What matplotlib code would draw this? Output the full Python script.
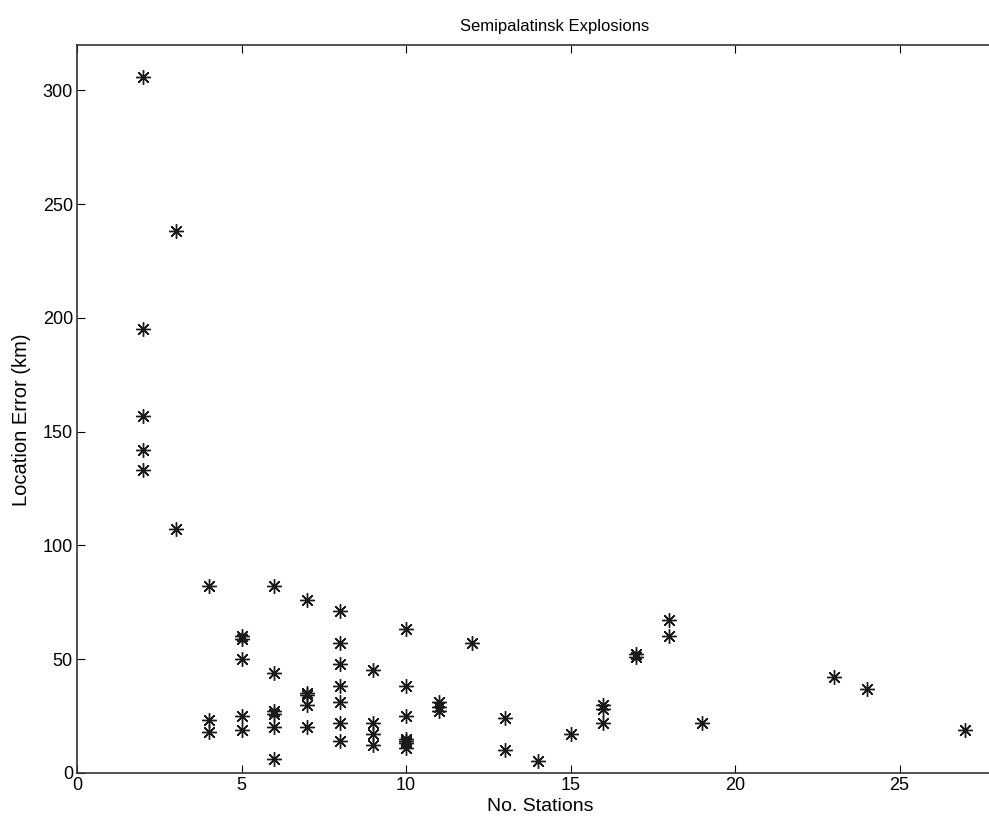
import matplotlib.pyplot as plt

# Dados
estacoes = [2, 2, 2, 2, 2,
            3, 3,
            4, 4, 4,
            5, 5, 5, 5, 5,
            6, 6, 6, 6, 6, 6,
            7, 7, 7, 7, 7,
            8, 8, 8, 8, 8, 8, 8,
            9, 9, 9, 9,
            10, 10, 10, 10, 10, 10, 10,
            11, 11, 11,
            12,
            13, 13,
            14,
            15,
            16, 16, 16,
            17, 17,
            18, 18,
            19,
            23,
            24,
            27]
erro_km = [306, 195, 157, 142, 133,
           238, 107,
           82, 23, 18,
           60, 59, 50, 25, 19,
           82, 44, 27, 26, 20, 6,
           76, 35, 34, 30, 20,
           71, 57, 48, 38, 31, 22, 14,
           45, 22, 17, 12,
           63, 38, 25, 15, 14, 13, 11,
           31, 29, 27,
           57,
           24, 10,
           5,
           17,
           30, 28, 22,
           52, 51,
           67, 60,
           22,
           42,
           37,
           19]
yticks = [0, 50, 100, 150, 200, 250, 300]
xticks = [0, 5, 10, 15, 20, 25]

plt.rcParams['font.family'] = ['Liberation Sans', 'DejaVu Sans']

fig = plt.figure(figsize=(9.89, 8.26), dpi=100)
ax = fig.add_axes([0.0779, 0.0645, 0.998, 0.881])
# asterisco de 8 bracos, como o '*' do MATLAB
ax.plot(estacoes, erro_km, linestyle='none', marker=(8, 2, 0), color='#1a1a1a',
        markersize=10.5, markeredgewidth=1.0)
ax.set_xlim(0, 30)
ax.set_ylim(0, 320)
ax.set_xticks(xticks)
ax.set_yticks(yticks)
ax.tick_params(direction='in', top=True, right=False, labelsize=13, length=6, pad=3)
fig.text(555 / 989, 1 - 27 / 826, 'Semipalatinsk Explosions', fontsize=12,
         ha='center', va='center')
ax.set_xlabel('No. Stations', fontsize=14)
ax.xaxis.set_label_coords(0.469, -0.035)
ax.set_ylabel('Location Error (km)', fontsize=14.5)
ax.yaxis.set_label_coords(-0.047, 0.485)
for s in ax.spines.values():
    s.set_linewidth(1.2)
    s.set_color('#333333')
fig.savefig('out.png', dpi=100)
